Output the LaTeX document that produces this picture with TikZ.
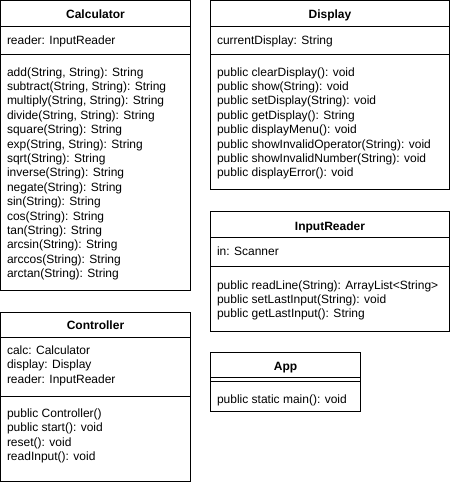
\documentclass[tikz,border=0pt]{standalone}
\usepackage{fontspec}
\setmainfont{Liberation Sans}
\begin{document}
\begin{tikzpicture}[x=1pt,y=-1pt,line width=1pt,
	classname/.style={font=\bfseries\fontsize{12}{14.4}\selectfont,anchor=base,inner sep=0pt},
	member/.style={font=\fontsize{12}{14.4}\selectfont,anchor=base west,inner sep=0pt}]
	\useasboundingbox(0,0)rectangle(451,485);
	% Calculator
	\draw(0.5,0.5)rectangle(190.5,290.5);
	\draw(0.5,26.5)--(190.5,26.5);
	\draw(0.5,54.5)--(190.5,54.5);
	\node[classname](calc)at(95.5,18.5){Calculator};
	\node[member](calcattr)at(6.5,44){reader: InputReader};
	\foreach \m[count=\i from 0] in {{add(String, String): String},{subtract(String, String): String},{multiply(String, String): String},{divide(String, String): String},{square(String): String},{exp(String, String): String},{sqrt(String): String},{inverse(String): String},{negate(String): String},{sin(String): String},{cos(String): String},{tan(String): String},{arcsin(String): String},{arccos(String): String},{arctan(String): String}}
		\node[member](calcop\i)at(6.5,{76+14.4*\i}){\m};
	% Display
	\draw(210.5,0.5)rectangle(449.5,189.5);
	\draw(210.5,26.5)--(449.5,26.5);
	\draw(210.5,54.5)--(449.5,54.5);
	\node[classname](disp)at(330,18.5){Display};
	\node[member](dispattr)at(216.5,44){currentDisplay: String};
	\foreach \m[count=\i from 0] in {{public clearDisplay(): void},{public show(String): void},{public setDisplay(String): void},{public getDisplay(): String},{public displayMenu(): void},{public showInvalidOperator(String): void},{public showInvalidNumber(String): void},{public displayError(): void}}
		\node[member](dispop\i)at(216.5,{76+14.4*\i}){\m};
	% InputReader
	\draw(210.5,211.5)rectangle(449.5,331.5);
	\draw(210.5,237.5)--(449.5,237.5);
	\draw(210.5,266.5)--(449.5,266.5);
	\node[classname](reader)at(330,230){InputReader};
	\node[member](readerattr)at(216.5,255){in: Scanner};
	\foreach \m[count=\i from 0] in {{public readLine(String): ArrayList<String>},{public setLastInput(String): void},{public getLastInput(): String}}
		\node[member](readerop\i)at(216.5,{289+14.2*\i}){\m};
	% Controller
	\draw(0.5,312.5)rectangle(190.5,481.5);
	\draw(0.5,337.5)--(190.5,337.5);
	\draw(0.5,396.5)--(190.5,396.5);
	\node[classname](ctrl)at(95.5,329.5){Controller};
	\foreach \m[count=\i from 0] in {{calc: Calculator},{display: Display},{reader: InputReader}}
		\node[member](ctrlattr\i)at(6.5,{354.5+14.4*\i}){\m};
	\foreach \m[count=\i from 0] in {{public Controller()},{public start(): void},{reset(): void},{readInput(): void}}
		\node[member](ctrlop\i)at(6.5,{417.5+14.4*\i}){\m};
	% App
	\draw(210.5,352.5)rectangle(360.5,411.5);
	\draw(210.5,377.5)--(360.5,377.5);
	\draw(210.5,381.5)--(360.5,381.5);
	\node[classname](app)at(285.5,370){App};
	\node[member](appop)at(216.5,403.5){public static main(): void};
\end{tikzpicture}
\end{document}
